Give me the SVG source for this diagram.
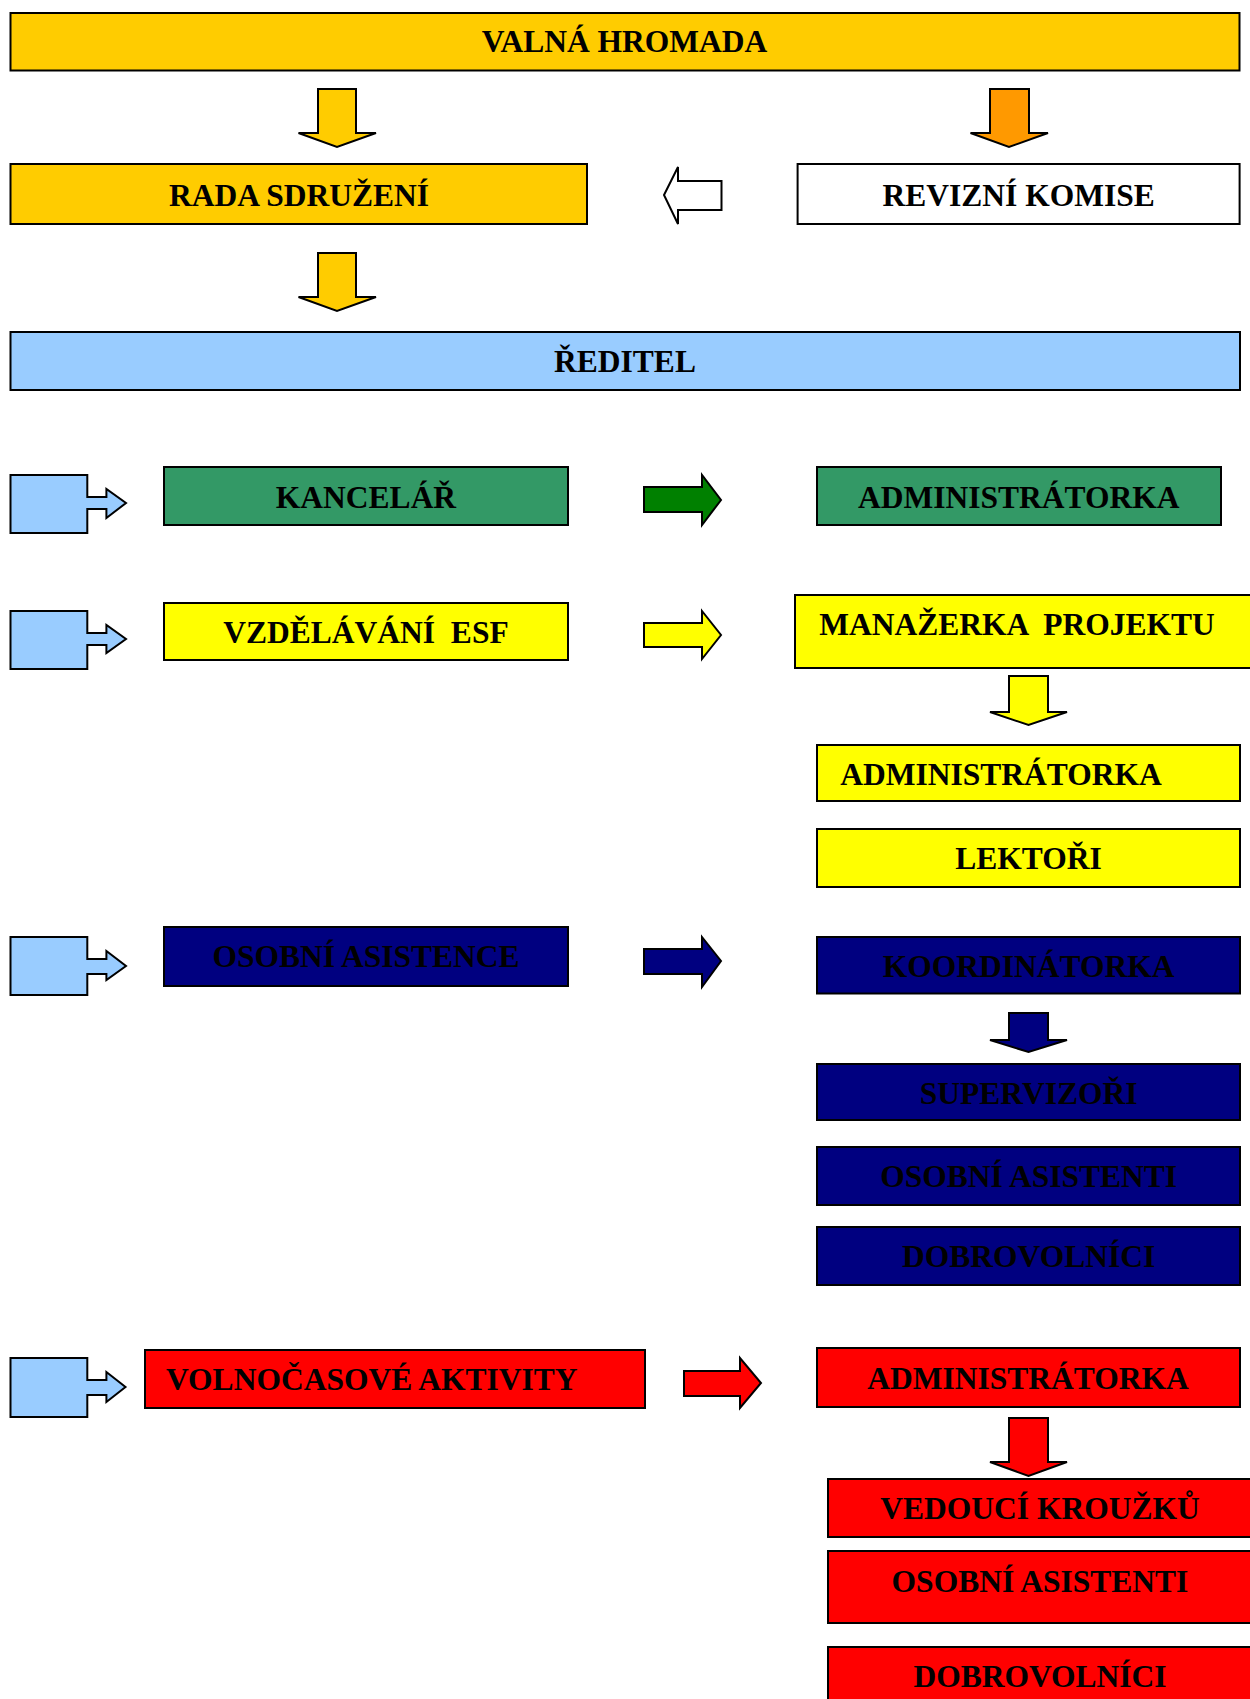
<svg xmlns="http://www.w3.org/2000/svg" width="1250" height="1699" viewBox="0 0 1250 1699">
<style>
  .box { stroke: #000; stroke-width: 2; }
  .arr { stroke: #000; stroke-width: 2; stroke-linejoin: miter; }
  .t { font-family: "Liberation Serif", "Times New Roman", serif; font-weight: bold; font-size: 31.5px; fill: #000; white-space: pre; }
  .m { text-anchor: middle; }
  .gold { fill: #FFCC00; }
  .orange { fill: #FF9900; }
  .sky { fill: #99CCFF; }
  .teal { fill: #339966; }
  .green { fill: #008000; }
  .yellow { fill: #FFFF00; }
  .navy { fill: #000080; }
  .red { fill: #FF0000; }
  .white { fill: #FFFFFF; }
</style>
<rect width="1250" height="1699" fill="#FFFFFF"/>

<g id="connectors">
  <!-- down arrows -->
  <path class="arr gold" d="M318,89 H356 V133 H376 L337,147 L298.5,133 H318 Z"/>
  <path class="arr orange" d="M990,89 H1029 V133 H1048 L1009,147 L970.5,133 H990 Z"/>
  <path class="arr gold" d="M318,253 H356 V297 H376 L337,311 L298.5,297 H318 Z"/>
  <path class="arr yellow" d="M1009,676 H1048 V712 H1067 L1028.5,725 L990,712 H1009 Z"/>
  <path class="arr navy" d="M1009,1013 H1048 V1040 H1067 L1028.5,1052 L990,1040 H1009 Z"/>
  <path class="arr red" d="M1009,1418 H1048 V1462 H1067 L1028.5,1476 L990,1462 H1009 Z"/>
  <!-- left arrow from revizni komise -->
  <path class="arr white" d="M721.5,181 V210 H678 V224 L664,195 L678,167 V181 Z"/>
  <!-- right arrows -->
  <path class="arr green" d="M644,487 H702 V475 L721,500 L702,525 V512 H644 Z"/>
  <path class="arr yellow" d="M644,623 H702 V611 L721,635 L702,659 V647 H644 Z"/>
  <path class="arr navy" d="M644,949 H702 V937 L721,961 L702,987 V974 H644 Z"/>
  <path class="arr red" d="M684,1371 H740 V1358 L761,1383 L740,1408 V1396 H684 Z"/>
  <!-- blue callouts from reditel -->
  <path class="arr sky" d="M10.5,475 H87.3 V497 H106.4 V489 L126,503 L106.4,518 V509 H87.3 V533 H10.5 Z"/>
  <path class="arr sky" d="M10.5,611 H87.3 V633 H106.4 V625 L126,639 L106.4,653 V645 H87.3 V669 H10.5 Z"/>
  <path class="arr sky" d="M10.5,937 H87.3 V959 H106.4 V951 L126,966 L106.4,980 V974 H87.3 V995 H10.5 Z"/>
  <path class="arr sky" d="M10.5,1358 H87.3 V1380 H106.4 V1372 L125.5,1387 L106.4,1402 V1395 H87.3 V1417 H10.5 Z"/>
</g>

<g id="valna-hromada">
  <rect class="box gold" x="10.5" y="13" width="1229" height="57.5"/>
  <text class="t m" x="624.5" y="52">VALNÁ HROMADA</text>
</g>
<g id="rada-sdruzeni">
  <rect class="box gold" x="10.5" y="164" width="576.5" height="60"/>
  <text class="t m" x="299" y="205.5">RADA SDRUŽENÍ</text>
</g>
<g id="revizni-komise">
  <rect class="box white" x="797.6" y="164" width="442" height="60"/>
  <text class="t m" x="1018.7" y="205.5">REVIZNÍ KOMISE</text>
</g>
<g id="reditel">
  <rect class="box sky" x="10.5" y="332" width="1229.5" height="58"/>
  <text class="t m" x="625" y="372">ŘEDITEL</text>
</g>

<g id="kancelar">
  <rect class="box teal" x="164" y="467" width="404" height="58"/>
  <text class="t m" x="366" y="507.5">KANCELÁŘ</text>
</g>
<g id="kancelar-administratorka">
  <rect class="box teal" x="817" y="467" width="404" height="58"/>
  <text class="t m" x="1018.7" y="507.5">ADMINISTRÁTORKA</text>
</g>

<g id="vzdelavani-esf">
  <rect class="box yellow" x="164" y="603" width="404" height="57"/>
  <text class="t m" x="366" y="642.5">VZDĚLÁVÁNÍ  ESF</text>
</g>
<g id="manazerka-projektu">
  <rect class="box yellow" x="795" y="595" width="470" height="73"/>
  <text class="t m" x="1017" y="635">MANAŽERKA  PROJEKTU</text>
</g>
<g id="esf-administratorka">
  <rect class="box yellow" x="817" y="745" width="423" height="56"/>
  <text class="t m" x="1001" y="785">ADMINISTRÁTORKA</text>
</g>
<g id="lektori">
  <rect class="box yellow" x="817" y="829" width="423" height="58"/>
  <text class="t m" x="1028.6" y="869">LEKTOŘI</text>
</g>

<g id="osobni-asistence">
  <rect class="box navy" x="164" y="927" width="404" height="59"/>
  <text class="t m" x="366" y="966.5">OSOBNÍ ASISTENCE</text>
</g>
<g id="koordinatorka">
  <rect class="box navy" x="817" y="937" width="423" height="56.5"/>
  <text class="t m" x="1028.6" y="977">KOORDINÁTORKA</text>
</g>
<g id="supervizori">
  <rect class="box navy" x="817" y="1064" width="423" height="56"/>
  <text class="t m" x="1028.6" y="1104">SUPERVIZOŘI</text>
</g>
<g id="oa-osobni-asistenti">
  <rect class="box navy" x="817" y="1147" width="423" height="58"/>
  <text class="t m" x="1028.6" y="1187">OSOBNÍ ASISTENTI</text>
</g>
<g id="oa-dobrovolnici">
  <rect class="box navy" x="817" y="1227" width="423" height="58"/>
  <text class="t m" x="1028.6" y="1266.5">DOBROVOLNÍCI</text>
</g>

<g id="volnocasove-aktivity">
  <rect class="box red" x="145" y="1350" width="500" height="58"/>
  <text class="t" x="166" y="1390">VOLNOČASOVÉ AKTIVITY</text>
</g>
<g id="va-administratorka">
  <rect class="box red" x="817" y="1348" width="423" height="59"/>
  <text class="t m" x="1028" y="1389">ADMINISTRÁTORKA</text>
</g>
<g id="vedouci-krouzku">
  <rect class="box red" x="828" y="1479" width="440" height="58"/>
  <text class="t m" x="1040" y="1519">VEDOUCÍ KROUŽKŮ</text>
</g>
<g id="va-osobni-asistenti">
  <rect class="box red" x="828" y="1551" width="440" height="72"/>
  <text class="t m" x="1040" y="1591.5">OSOBNÍ ASISTENTI</text>
</g>
<g id="va-dobrovolnici">
  <rect class="box red" x="828" y="1647" width="440" height="70"/>
  <text class="t m" x="1040" y="1686.5">DOBROVOLNÍCI</text>
</g>
</svg>
